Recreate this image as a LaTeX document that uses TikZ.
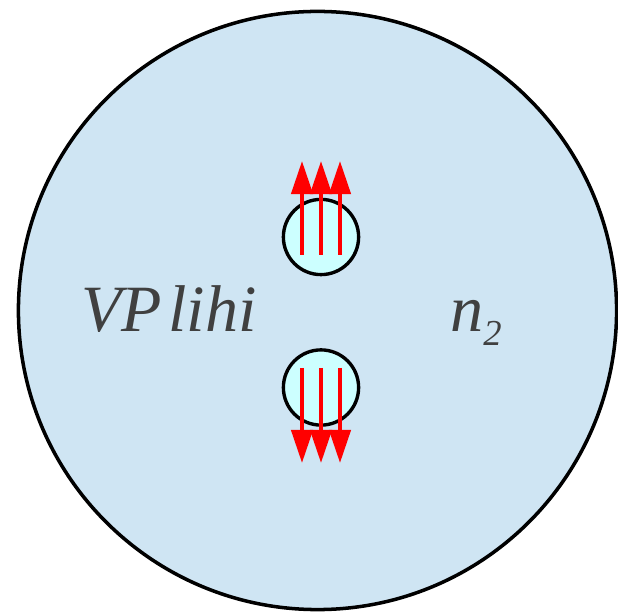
\documentclass[tikz,border=0pt]{standalone}
\usepackage{fontspec}
\setmainfont{Liberation Serif}[ItalicFont={Liberation Serif Italic}]
\newfontfamily\tagfont{Liberation Serif Italic}
\usetikzlibrary{
	arrows.meta,
	positioning
}
\definecolor{CellBlue}{HTML}{CFE5F3}
\definecolor{PoreCyan}{HTML}{CCFFFF}
\definecolor{LabelInk}{HTML}{404040}

\begin{document}
\begin{tikzpicture}[
 x=0.025cm,y=-0.025cm,
 cell/.style={circle,draw=black,line width=2.5pt,fill=CellBlue,inner sep=0pt,
   minimum size=14.95cm},
 pore/.style={circle,draw=black,line width=2.4pt,fill=PoreCyan,inner sep=0pt,
   minimum size=1.88cm},
 flux/.style={-{Triangle[length=0.83cm,width=0.53cm]},draw=red,line width=2.85pt},
 tag/.style={inner sep=0pt,anchor=base west,text=LabelInk,
   font=\fontsize{47}{50}\tagfont}
]
 \useasboundingbox (0,0) rectangle (618,615);
 \node[cell] (cell) at (317.5,310.5) {};
 \node[pore] (top) at (321,237) {};
 \node[pore] (bot) at (321,387.5) {};
 \node[tag] (vp) at (81,332) {VP\hspace{4.5pt}lihi};
 \node[tag] (n2) at (450,332)
   {n\raisebox{-9.3pt}{\fontsize{26}{28}\selectfont 2}};
 \foreach \i/\x in {a/302,b/321,c/340} {
   \coordinate (top-\i) at (\x,255);
   \coordinate (out-\i) at (\x,161);
   \coordinate (bot-\i) at (\x,368);
   \coordinate (in-\i) at (\x,463);
   \draw[flux] (top-\i)--(out-\i);
   \draw[flux] (bot-\i)--(in-\i);
 }
\end{tikzpicture}
\end{document}
